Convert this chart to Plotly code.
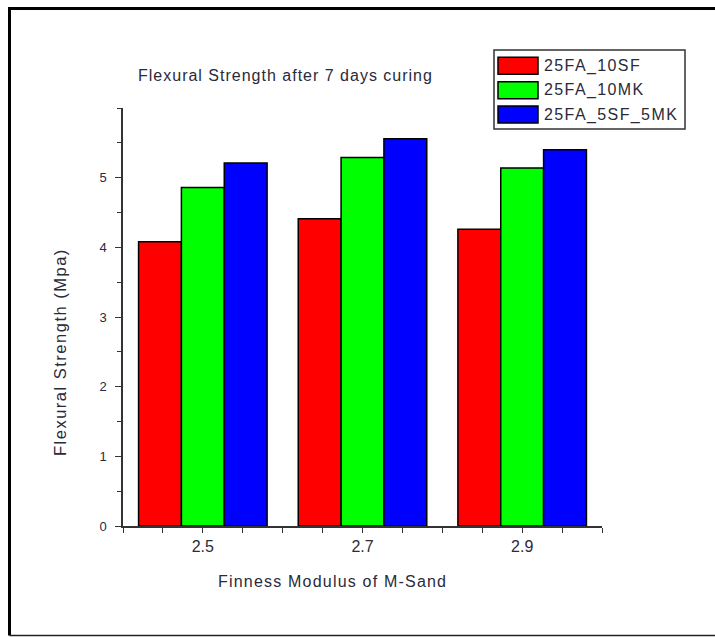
import plotly.graph_objects as go

# Fineness modulus of M-sand (x) and 7-day flexural strength (MPa) per mix
fineness = [2.5, 2.7, 2.9]
tick_labels = ["2.5", "2.7", "2.9"]
series_names = ["25FA_10SF", "25FA_10MK", "25FA_5SF_5MK"]
strength_10sf = [4.08, 4.41, 4.26]
strength_10mk = [4.86, 5.29, 5.14]
strength_5sf_5mk = [5.21, 5.56, 5.40]
series_colors = ["#FF0000", "#00FF00", "#0000FF"]
y_ticks = [0, 1, 2, 3, 4, 5]

W, H = 715, 637
ML, MR, MT, MB = 123, 113, 108, 111
PW, PH = W - ML - MR, H - MT - MB
FONT = "Liberation Sans, Arial, sans-serif"
TXT = "#2a2a3a"


def px_x(x):
    return (x - ML) / PW


def px_y(y):
    return (H - MB - y) / PH


def spaced(text, spacing):
    return '<span style="letter-spacing:%.2fpx">%s</span>' % (spacing, text)


fig = go.Figure()
for name, vals, col in zip(series_names,
                           [strength_10sf, strength_10mk, strength_5sf_5mk],
                           series_colors):
    fig.add_trace(go.Bar(
        x=fineness, y=vals, name=name,
        marker=dict(color=col, line=dict(color="black", width=1.5)),
        showlegend=False,
    ))

shapes = []
annotations = []

# outer frame
shapes.append(dict(type="line", xref="paper", yref="paper",
                   x0=px_x(9.5), x1=px_x(W + 5), y0=px_y(8.5), y1=px_y(8.5),
                   line=dict(color="black", width=3)))
shapes.append(dict(type="line", xref="paper", yref="paper",
                   x0=px_x(9.5), x1=px_x(9.5), y0=px_y(7), y1=px_y(635.5),
                   line=dict(color="black", width=3)))
shapes.append(dict(type="line", xref="paper", yref="paper",
                   x0=px_x(9.5), x1=px_x(W + 5), y0=px_y(635.5), y1=px_y(635.5),
                   line=dict(color="#222222", width=1.5)))

# legend box
shapes.append(dict(type="rect", xref="paper", yref="paper",
                   x0=px_x(494), x1=px_x(685), y0=px_y(129), y1=px_y(50),
                   line=dict(color="#333333", width=1.5), fillcolor="white"))
row_top = [57.3, 81.7, 106.0]
for i, (name, col) in enumerate(zip(series_names, series_colors)):
    top = row_top[i]
    shapes.append(dict(type="rect", xref="paper", yref="paper",
                       x0=px_x(498), x1=px_x(538), y0=px_y(top + 17), y1=px_y(top),
                       line=dict(color="black", width=1.5), fillcolor=col))
    annotations.append(dict(xref="paper", yref="paper", x=px_x(542), y=px_y(top + 8.5),
                            text=spaced(name, 1.4), showarrow=False,
                            xanchor="left", yanchor="middle",
                            font=dict(family=FONT, size=16, color=TXT)))

# chart title and axis titles
annotations.append(dict(xref="paper", yref="paper", x=px_x(285), y=px_y(75),
                        text=spaced("Flexural Strength after 7 days curing", 1.0),
                        showarrow=False, xanchor="center", yanchor="middle",
                        font=dict(family=FONT, size=16, color=TXT)))
annotations.append(dict(xref="paper", yref="paper", x=px_x(332), y=px_y(581),
                        text=spaced("Finness Modulus of M-Sand", 1.2),
                        showarrow=False, xanchor="center", yanchor="middle",
                        font=dict(family=FONT, size=16, color=TXT)))
annotations.append(dict(xref="paper", yref="paper", x=px_x(60), y=px_y(352),
                        text=spaced("Flexural Strength (Mpa)", 1.5),
                        showarrow=False, textangle=-90,
                        xanchor="center", yanchor="middle",
                        font=dict(family=FONT, size=16.5, color=TXT)))

fig.update_layout(
    width=W, height=H,
    margin=dict(l=ML, r=MR, t=MT, b=MB, pad=0),
    paper_bgcolor="white", plot_bgcolor="white",
    barmode="group", bargap=0.195, bargroupgap=0,
    shapes=shapes, annotations=annotations,
    showlegend=False,
)
fig.update_xaxes(
    range=[2.4, 3.0], tickvals=fineness, ticktext=tick_labels,
    showgrid=False, zeroline=False, showline=True, linecolor="#333333", linewidth=1.5,
    ticks="outside", ticklen=5, tickwidth=1, tickcolor="#333333",
    minor=dict(dtick=0.05, tick0=2.4, ticks="outside", ticklen=5, tickwidth=1,
               tickcolor="#333333", showgrid=False),
    tickfont=dict(family=FONT, size=16, color=TXT),
)
fig.update_yaxes(
    range=[0, 6], tickvals=y_ticks,
    showgrid=False, zeroline=False, showline=True, linecolor="#333333", linewidth=1.5,
    ticks="outside", ticklen=6, tickwidth=1, tickcolor="#333333",
    minor=dict(dtick=0.5, tick0=0, ticks="outside", ticklen=4, tickwidth=1,
               tickcolor="#333333", showgrid=False),
    tickfont=dict(family=FONT, size=13, color=TXT),
    ticklabelstandoff=6,
)

fig.write_html("out.html")
